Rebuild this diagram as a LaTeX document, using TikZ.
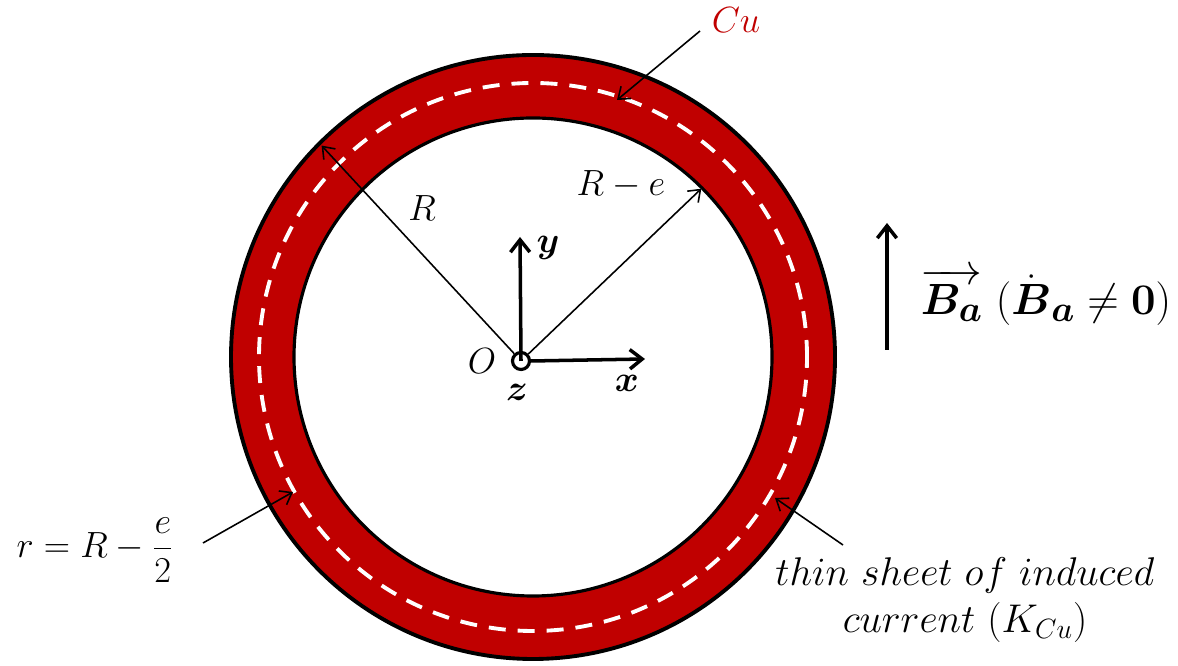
\documentclass[tikz,border=0pt]{standalone}
\usepackage{amsmath,amssymb}
\usepackage{tikz}
\usetikzlibrary{positioning,arrows.meta,calc}
\definecolor{copper}{HTML}{C00000}
\tikzset{
  pointer/.style={-{Straight Barb[length=6pt,width=9pt]}, line width=0.9pt},
  axis/.style={-{Straight Barb[length=7pt,width=11pt]}, line width=2pt},
  lbl/.style={font=\fontsize{20.74}{24}\selectfont, inner sep=1pt}
}

\begin{document}
\begin{tikzpicture}
        \useasboundingbox (0,0) rectangle (23.56,13.32);
        \coordinate (C) at (10.66,6.18);

        % Copper ring
        \fill[copper, even odd rule] (C) circle (6.04) (C) circle (4.78);
        \draw[line width=2.2pt] (C) circle (6.04);
        \draw[line width=1.8pt] (C) circle (4.78);
        \draw[white, line width=2.2pt, dash pattern=on 0.34cm off 0.24cm] (C) circle (5.48);

        % Origin and axes
        \node[circle, draw, line width=1.8pt, minimum size=0.34cm, inner sep=0pt] (O) at (10.42,6.10) {};
        \coordinate (ytip) at (10.40,8.58);
        \coordinate (xtip) at (12.90,6.14);
        \draw[axis] (O.center) -- (ytip);
        \draw[axis] (O.east) -- (xtip);
        \node[lbl] (ylab) at (10.96,8.36) {$\boldsymbol{y}$};
        \node[lbl] (xlab) at (12.54,5.66) {$\boldsymbol{x}$};
        \node[lbl] (zlab) at (10.34,5.48) {$\boldsymbol{z}$};
        \node[lbl] (olab) at (9.64,6.10) {$O$};

        % Radii
        \coordinate (Rtip) at ($(C)+(135:5.98)$);
        \coordinate (Retip) at ($(C)+(45:4.76)$);
        \draw[pointer] (O) -- (Rtip);
        \draw[pointer] (O) -- (Retip);
        \node[lbl] (Rlab) at (8.44,9.16) {$R$};
        \node[lbl] (Relab) at (12.42,9.62) {$R-e$};

        % Cu label
        \node[lbl, copper] (culab) at (14.72,12.92) {$Cu$};
        \coordinate (custart) at (14.0,12.70);
        \coordinate (cutip) at (12.34,11.32);
        \draw[pointer] (custart) -- (cutip);

        % Applied field
        \coordinate (Bbot) at (17.74,6.32);
        \coordinate (Btop) at (17.74,8.86);
        \draw[axis] (Bbot) -- (Btop);
        \node[lbl, font=\fontsize{24.88}{28}\selectfont] (Blab) at (20.92,7.38)
          {$\overrightarrow{\boldsymbol{B_a}}\ (\dot{\boldsymbol{B}}_{\boldsymbol{a}}\neq\mathbf{0})$};

        % Mean radius
        \node[lbl] (rlab) at (1.9,2.32) {$r=R-\dfrac{e}{2}$};
        \coordinate (rstart) at (4.06,2.46);
        \coordinate (rtip) at (5.86,3.48);
        \draw[pointer] (rstart) -- (rtip);

        % Induced current sheet
        \node[lbl, align=center, scale=1.1, transform shape] (sheetlab) at (19.3,1.32)
          {$thin\ sheet\ of\ induced$\\ $current\ (K_{Cu})$};
        \coordinate (kstart) at (16.86,2.42);
        \coordinate (ktip) at (15.50,3.36);
        \draw[pointer] (kstart) -- (ktip);
\end{tikzpicture}
\end{document}
